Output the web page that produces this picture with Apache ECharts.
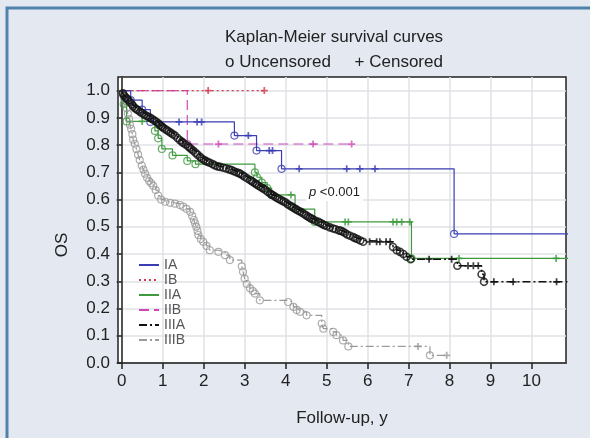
<!DOCTYPE html>
<html>
<head>
<meta charset="utf-8">
<script src="https://cdn.jsdelivr.net/npm/echarts@6.0.0/dist/echarts.min.js"></script>
<style>
html,body{margin:0;padding:0;background:#e4e8f1;}
#main{width:590px;height:438px;}
</style>
</head>
<body>
<div id="main"></div>
<script>
var xTicks = [0, 1, 2, 3, 4, 5, 6, 7, 8, 9, 10];
var yTicks = [0, 0.1, 0.2, 0.3, 0.4, 0.5, 0.6, 0.7, 0.8, 0.9, 1.0];
var groups = ['IA', 'IB', 'IIA', 'IIB', 'IIIA', 'IIIB'];

// [time, survival after the event]
var iaEvents = [[0, 1], [0.22, 0.965], [0.5, 0.93], [0.7, 0.885], [2.75, 0.835], [3.29, 0.78], [3.9, 0.713], [8.11, 0.474]];
var iaCensored = [1.40, 1.84, 1.95, 3.09, 3.60, 3.68, 4.33, 5.49, 5.81, 6.18];
var iaEnd = 10.9;

var ibEvents = [[0, 1]];
var ibCensored = [2.11, 3.48];
var ibEnd = 3.48;

var iiaEvents = [[0, 1], [0.05, 0.95], [0.12, 0.887], [0.81, 0.852], [0.89, 0.825], [0.98, 0.786], [1.24, 0.762],
  [1.6, 0.742], [1.8, 0.73], [3.25, 0.70], [3.3, 0.682], [3.42, 0.662], [3.55, 0.642], [3.66, 0.617],
  [4.23, 0.565], [4.71, 0.518], [7.07, 0.384]];
var iiaCensored = [0.5, 4.13, 5.45, 5.53, 6.62, 6.71, 6.83, 7.03, 8.23, 10.6];
var iiaEnd = 10.9;

var iibEvents = [[0, 1], [1.6, 0.804]];
var iibCensored = [2.36, 4.67, 5.61];
var iibEnd = 5.61;

var iiiaEvents = [[0, 1], [0.03, 0.99], [0.06, 0.982], [0.1, 0.975], [0.13, 0.97], [0.16, 0.965], [0.2, 0.958],
  [0.25, 0.95], [0.28, 0.943], [0.32, 0.936], [0.36, 0.932], [0.4, 0.928], [0.45, 0.922], [0.5, 0.917],
  [0.55, 0.912], [0.6, 0.908], [0.65, 0.904], [0.7, 0.9], [0.75, 0.895], [0.8, 0.89], [0.85, 0.885],
  [0.9, 0.879], [0.93, 0.874], [0.97, 0.869], [1.0, 0.865], [1.05, 0.86], [1.1, 0.855], [1.15, 0.85],
  [1.2, 0.845], [1.25, 0.84], [1.3, 0.835], [1.36, 0.826], [1.42, 0.818], [1.47, 0.812], [1.5, 0.808],
  [1.56, 0.802], [1.62, 0.796], [1.66, 0.79], [1.7, 0.785], [1.75, 0.779], [1.8, 0.772], [1.85, 0.765],
  [1.91, 0.757], [1.95, 0.751], [2.0, 0.746], [2.05, 0.742], [2.1, 0.738], [2.15, 0.735], [2.22, 0.73],
  [2.28, 0.725], [2.34, 0.722], [2.4, 0.72], [2.48, 0.717], [2.55, 0.714], [2.62, 0.711], [2.68, 0.708],
  [2.74, 0.704], [2.8, 0.7], [2.86, 0.697], [2.9, 0.694], [2.95, 0.689], [3.0, 0.684], [3.06, 0.678],
  [3.13, 0.672], [3.17, 0.668], [3.21, 0.664], [3.26, 0.659], [3.3, 0.655], [3.35, 0.65], [3.4, 0.645],
  [3.45, 0.641], [3.5, 0.636], [3.56, 0.629], [3.62, 0.622], [3.66, 0.618], [3.7, 0.615], [3.75, 0.61],
  [3.8, 0.605], [3.85, 0.601], [3.9, 0.597], [3.95, 0.593], [4.0, 0.589], [4.05, 0.583], [4.1, 0.578],
  [4.15, 0.574], [4.19, 0.57], [4.25, 0.565], [4.3, 0.56], [4.35, 0.556], [4.4, 0.552], [4.45, 0.547],
  [4.5, 0.542], [4.55, 0.537], [4.59, 0.533], [4.63, 0.53], [4.67, 0.527], [4.73, 0.522], [4.8, 0.518],
  [4.85, 0.514], [4.9, 0.51], [4.95, 0.506], [5.0, 0.503], [5.08, 0.498], [5.16, 0.494], [5.22, 0.491],
  [5.3, 0.487], [5.35, 0.485], [5.4, 0.482], [5.45, 0.477], [5.5, 0.472], [5.57, 0.467], [5.65, 0.462],
  [5.7, 0.458], [5.75, 0.455], [5.82, 0.45], [5.89, 0.445], [6.62, 0.426], [6.71, 0.414], [6.79, 0.408],
  [6.87, 0.4], [6.95, 0.39], [7.05, 0.381], [8.19, 0.357], [8.78, 0.326], [8.84, 0.298]];
var iiiaCensored = [6.05, 6.22, 6.30, 6.45, 6.55, 7.5, 8.05, 8.45, 8.58, 8.70, 9.08, 9.55, 10.61];
var iiiaEnd = 10.9;

var iiibEvents = [[0, 1], [0.03, 0.985], [0.06, 0.97], [0.09, 0.955], [0.12, 0.935], [0.15, 0.915], [0.18, 0.895],
  [0.2, 0.875], [0.23, 0.86], [0.26, 0.84], [0.28, 0.82], [0.32, 0.805], [0.36, 0.785], [0.4, 0.765],
  [0.44, 0.745], [0.49, 0.725], [0.53, 0.71], [0.57, 0.695], [0.62, 0.68], [0.67, 0.668], [0.72, 0.66],
  [0.77, 0.65], [0.83, 0.635], [0.89, 0.615], [0.96, 0.6], [1.06, 0.592], [1.18, 0.588], [1.3, 0.585],
  [1.42, 0.58], [1.5, 0.574], [1.58, 0.566], [1.67, 0.555], [1.72, 0.54], [1.76, 0.525], [1.79, 0.513],
  [1.82, 0.5], [1.85, 0.485], [1.87, 0.47], [1.93, 0.455], [1.99, 0.445], [2.07, 0.43], [2.15, 0.414],
  [2.36, 0.408], [2.52, 0.396], [2.64, 0.378], [2.93, 0.355], [2.96, 0.335], [3.0, 0.31], [3.05, 0.29],
  [3.13, 0.274], [3.2, 0.264], [3.25, 0.255], [3.37, 0.23], [4.06, 0.224], [4.19, 0.206], [4.27, 0.195],
  [4.35, 0.188], [4.51, 0.175], [4.88, 0.145], [4.92, 0.126], [5.16, 0.114], [5.24, 0.102], [5.4, 0.083],
  [5.53, 0.061], [7.52, 0.028]];
var iiibCensored = [7.23, 7.93];
var iiibEnd = 7.93;

var colors = {IA: '#3a3db3', IB: '#d43a4c', IIA: '#3f9a3f', IIB: '#d048b8', IIIA: '#111111', IIIB: '#9a9a9a'};
var dashes = {IA: 'solid', IB: [2, 3], IIA: 'solid', IIB: [10, 5], IIIA: [8, 3, 2, 3], IIIB: [8, 3, 2, 3]};
var plusPath = 'path://M3,0H5V3H8V5H5V8H3V5H0V3H3Z';

var curves = {
  IA: {ev: iaEvents, cens: iaCensored, end: iaEnd},
  IB: {ev: ibEvents, cens: ibCensored, end: ibEnd},
  IIA: {ev: iiaEvents, cens: iiaCensored, end: iiaEnd},
  IIB: {ev: iibEvents, cens: iibCensored, end: iibEnd},
  IIIA: {ev: iiiaEvents, cens: iiiaCensored, end: iiiaEnd},
  IIIB: {ev: iiibEvents, cens: iiibCensored, end: iiibEnd}
};

function survAt(ev, t) {
  var s = ev[0][1];
  for (var i = 0; i < ev.length; i++) {
    if (ev[i][0] <= t) s = ev[i][1];
  }
  return s;
}

var drawOrder = ['IIIB', 'IIA', 'IIB', 'IB', 'IA', 'IIIA'];
var series = [];
drawOrder.forEach(function (g, k) {
  var c = curves[g];
  var last = c.ev[c.ev.length - 1][1];
  series.push({
    name: g, type: 'line', step: 'end', symbol: 'none', z: 2 + k,
    lineStyle: {color: colors[g], width: g === 'IIIA' ? 1.5 : 1.2, type: dashes[g]},
    itemStyle: {color: colors[g]},
    data: c.ev.concat([[c.end, last]])
  });
  series.push({
    name: g + ' uncensored', type: 'scatter', symbol: 'circle', symbolSize: 7, z: 3 + k,
    itemStyle: {color: 'rgba(255,255,255,0)', borderColor: colors[g], borderWidth: g === 'IIIA' ? 1.6 : 1.2},
    data: c.ev.slice(1)
  });
  series.push({
    name: g + ' censored', type: 'scatter', symbol: plusPath, symbolSize: 7, z: 3 + k,
    itemStyle: {color: colors[g]},
    data: c.cens.map(function (t) { return [t, survAt(c.ev, t)]; })
  });
});

var chart = echarts.init(document.getElementById('main'));
var font = 'Liberation Sans, Arial, sans-serif';
chart.setOption({
  backgroundColor: '#e4e8f1',
  animation: false,
  textStyle: {fontFamily: font},
  grid: {left: 118, right: 24, top: 77, bottom: 75, show: true, backgroundColor: '#ffffff',
    borderColor: '#222', borderWidth: 1.5},
  legend: {
    data: groups, orient: 'vertical', left: 133, top: 253, itemWidth: 20, itemHeight: 8, itemGap: 1,
    itemStyle: {opacity: 0},
    textStyle: {color: '#555', fontSize: 14, lineHeight: 14, fontFamily: font}
  },
  xAxis: {
    type: 'value', min: -0.09, max: 10.84,
    name: 'Follow-up, y', nameLocation: 'middle', nameGap: 47,
    nameTextStyle: {color: '#222', fontSize: 17},
    axisLine: {show: true, lineStyle: {color: '#222', width: 1.5}},
    axisTick: {show: true, length: 6, customValues: xTicks, lineStyle: {color: '#222', width: 1.5}},
    axisLabel: {customValues: xTicks, color: '#222', fontSize: 17, margin: 10},
    splitLine: {show: true, lineStyle: {color: '#dfe2e6', width: 1.5}}
  },
  yAxis: {
    type: 'value', min: 0, max: 1.05, interval: 0.1,
    axisLine: {show: true, lineStyle: {color: '#222', width: 1.5}},
    axisTick: {show: true, length: 5, customValues: yTicks, lineStyle: {color: '#222', width: 1.5}},
    axisLabel: {customValues: yTicks, color: '#222', fontSize: 17, margin: 8,
      formatter: function (v) { return v.toFixed(1); }},
    splitLine: {show: true, lineStyle: {color: '#dfe2e6', width: 1.5}}
  },
  graphic: [
    {type: 'polyline', silent: true, z: 100,
      shape: {points: [[7, 438], [7, 8], [590, 8]]},
      style: {stroke: '#4f83ab', lineWidth: 3, fill: null}},
    {type: 'text', x: 334, y: 37, style: {text: 'Kaplan-Meier survival curves', fill: '#222',
      font: '17px ' + font, textAlign: 'center', textVerticalAlign: 'middle'}},
    {type: 'text', x: 334, y: 62, style: {text: 'o Uncensored     + Censored', fill: '#222',
      font: '17px ' + font, textAlign: 'center', textVerticalAlign: 'middle'}},
    {type: 'text', x: 62, y: 245, rotation: Math.PI / 2, style: {text: 'OS', fill: '#222',
      font: '17px ' + font, textAlign: 'center', textVerticalAlign: 'middle'}},
    {type: 'text', x: 306, y: 184, z: 50, style: {text: '{i|p} <0.001', fill: '#222',
      font: '13px ' + font, backgroundColor: '#fff', padding: [2, 3],
      rich: {i: {fontStyle: 'italic', fontSize: 13, fontFamily: font}}}}
  ],
  series: series
});
</script>
</body>
</html>
